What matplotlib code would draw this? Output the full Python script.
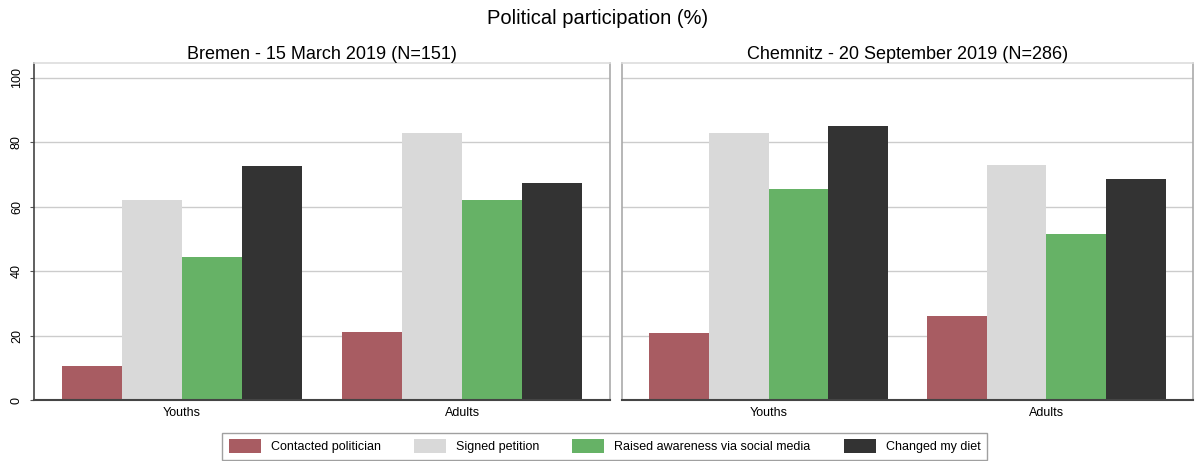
import matplotlib
matplotlib.use("Agg")
import matplotlib.pyplot as plt
from matplotlib.patches import Patch
import numpy as np

plt.rcParams["font.family"] = ["Liberation Sans", "DejaVu Sans"]

groups = ["Youths", "Adults"]
series = ["Contacted politician", "Signed petition",
          "Raised awareness via social media", "Changed my diet"]
colors = ["#a85c62", "#d9d9d9", "#66b266", "#333333"]

panels = ["Bremen - 15 March 2019 (N=151)",
          "Chemnitz - 20 September 2019 (N=286)"]
# values per panel and group, in series order
bremen_youths = [10.5, 62, 44.5, 72.5]
bremen_adults = [21, 83, 62, 67.5]
chemnitz_youths = [20.7, 83, 65.5, 85]
chemnitz_adults = [26, 73, 51.5, 68.5]
data = [[bremen_youths, bremen_adults], [chemnitz_youths, chemnitz_adults]]

fig = plt.figure(figsize=(11.96, 4.61), dpi=100)
W, H = 1196, 461

def frac(x0, y0, x1, y1):
    return [x0 / W, 1 - y1 / H, (x1 - x0) / W, (y1 - y0) / H]

boxes = [frac(34, 63, 610, 400), frac(622, 63, 1193, 400)]

bw = 1.0
gap = 0.66
offsets = np.arange(4) * bw

for p, box in enumerate(boxes):
    ax = fig.add_axes(box)
    centers = []
    for g in range(2):
        start = g * (4 * bw + gap)
        xs = start + offsets
        for s in range(4):
            ax.bar(xs[s], data[p][g][s], width=bw, color=colors[s],
                   edgecolor="none", zorder=2)
        centers.append(xs.mean())
    ax.set_xlim(-0.5 - 0.46, 4 * bw + gap + 3 + 0.5 + 0.46)
    ax.set_ylim(0, 104.6)
    ax.set_yticks([0, 20, 40, 60, 80, 100])
    ax.yaxis.grid(True, color="#cccccc", linewidth=1, zorder=0)
    ax.set_axisbelow(True)
    ax.set_xticks(centers)
    ax.set_xticklabels(groups, fontsize=9)
    ax.tick_params(axis="x", length=0, pad=5)
    if p == 0:
        ax.set_yticklabels(["0", "20", "40", "60", "80", "100"],
                           rotation=90, va="center", fontsize=9)
        ax.tick_params(axis="y", length=3, color="#555555", pad=5)
    else:
        ax.tick_params(axis="y", length=0, labelleft=False)
    for side in ["left", "right", "top"]:
        ax.spines[side].set_color("#aaaaaa")
        ax.spines[side].set_linewidth(1.2)
    ax.spines["top"].set_color("#dddddd")
    ax.spines["bottom"].set_color("#444444")
    ax.spines["bottom"].set_linewidth(1.5)
    if p == 0:
        ax.spines["left"].set_color("#444444")
    ax.set_title(panels[p], fontsize=13, pad=3)

fig.text(0.5, 1 - 18 / H, "Political participation (%)", ha="center",
         va="center", fontsize=14.5)

handles = [Patch(facecolor=c, label=s) for c, s in zip(colors, series)]
fig.legend(handles=handles, loc="upper center", ncol=4,
           bbox_to_anchor=(604.5 / W, 1 - 433 / H), fontsize=9,
           frameon=True, fancybox=False, edgecolor="#888888",
           handlelength=2.56, handleheight=1.3, handletextpad=0.8,
           columnspacing=2.65, borderpad=0.5, borderaxespad=0)

fig.savefig("out.png", dpi=100)
